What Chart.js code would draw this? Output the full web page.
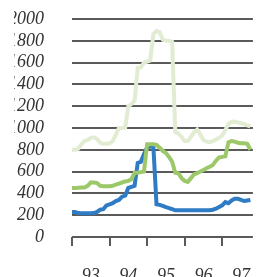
<!DOCTYPE html>
<html>
<head>
<meta charset="utf-8">
<script src="https://cdn.jsdelivr.net/npm/chart.js@4"></script>
<style>
  html, body { margin: 0; padding: 0; background: #fff; }
  #wrap { width: 272px; height: 277px; }
</style>
</head>
<body>
<div id="wrap"><canvas id="chart"></canvas></div>
<script>
// monthly values, Jan 1993 onward
const years = ['93', '94', '95', '96', '97'];
const yearStarts = [0, 12, 24, 36, 48];
const yTicks = [0, 200, 400, 600, 800, 1000, 1200, 1400, 1600, 1800, 2000];
const paleGreen = [800, 800, 810, 850, 880, 890, 910, 915, 900, 865, 855, 855, 860, 880, 940, 1000, 1000, 1005, 1200, 1220,
  1250, 1550, 1555, 1600, 1610, 1620, 1860, 1890, 1880, 1810, 1800, 1800, 1790, 960, 950, 920, 880, 880, 920, 960,
  985, 940, 890, 875, 870, 880, 895, 910, 930, 980, 1040, 1055, 1060, 1050, 1045, 1035, 1025, 1015];
const midGreen = [450, 450, 452, 455, 455, 470, 500, 500, 495, 470, 465, 465, 465, 470, 480, 490, 500, 510, 515, 530,
  590, 590, 595, 600, 850, 850, 850, 845, 820, 790, 770, 735, 690, 590, 585, 540, 515, 505, 540, 575,
  585, 600, 615, 630, 645, 660, 700, 730, 735, 740, 870, 880, 875, 865, 860, 860, 855, 800];
const blue = [230, 230, 220, 218, 218, 218, 218, 220, 230, 250, 255, 290, 300, 310, 330, 340, 370, 380, 450, 460,
  470, 680, 690, 760, 820, 830, 830, 300, 295, 285, 275, 265, 255, 245, 245, 245, 245, 245, 245, 245,
  245, 245, 245, 245, 245, 250, 260, 275, 290, 320, 310, 335, 350, 350, 340, 330, 335, 340];

const pts = arr => arr.map((v, i) => ({ x: i, y: v }));
const font = { family: 'Liberation Serif', style: 'italic', size: 18, lineHeight: 1 };

// horizontal rules + year tick marks
const gridPlugin = {
  id: 'manualGrid',
  beforeDatasetsDraw(chart) {
    const { ctx, chartArea } = chart;
    const x = chart.scales.x, y = chart.scales.y;
    ctx.save();
    ctx.fillStyle = '#5a5a5a';
    yTicks.forEach(v => {
      const py = Math.round(y.getPixelForValue(v));
      ctx.fillRect(chartArea.left, py - 1, chartArea.right - chartArea.left, 2);
    });
    yearStarts.forEach(v => {
      const px = Math.round(x.getPixelForValue(v));
      ctx.fillRect(px - 1, chartArea.bottom, 2, 9);
    });
    ctx.restore();
  }
};

new Chart(document.getElementById('chart'), {
  type: 'line',
  data: {
    datasets: [
      { data: pts(paleGreen), borderColor: '#e1ecd3', borderWidth: 4 },
      { data: pts(midGreen), borderColor: '#9dc86a', borderWidth: 4 },
      { data: pts(blue), borderColor: '#2f7bc4', borderWidth: 4 }
    ]
  },
  options: {
    responsive: true,
    maintainAspectRatio: false,
    animation: false,
    layout: { padding: { left: 14, right: 0, top: 0, bottom: 0 } },
    elements: { point: { radius: 0 }, line: { tension: 0 } },
    plugins: { legend: { display: false }, tooltip: { enabled: false } },
    scales: {
      x: {
        type: 'linear', min: 0, max: 57.8,
        afterBuildTicks: axis => { axis.ticks = [6, 18, 30, 42, 54].map(v => ({ value: v })); },
        afterFit: scale => { scale.height = 40; },
        ticks: {
          autoSkip: false, maxRotation: 0, padding: 22, color: '#333', font: font,
          callback: v => years[(v - 6) / 12]
        },
        grid: { display: false },
        border: { display: false }
      },
      y: {
        min: 0, max: 2000,
        afterFit: scale => { scale.width = 58; scale.paddingTop = 19; },
        ticks: { stepSize: 200, autoSkip: false, padding: 20, color: '#333', font: font, callback: v => String(v) },
        grid: { display: false },
        border: { display: false }
      }
    }
  },
  plugins: [gridPlugin]
});
</script>
</body>
</html>
